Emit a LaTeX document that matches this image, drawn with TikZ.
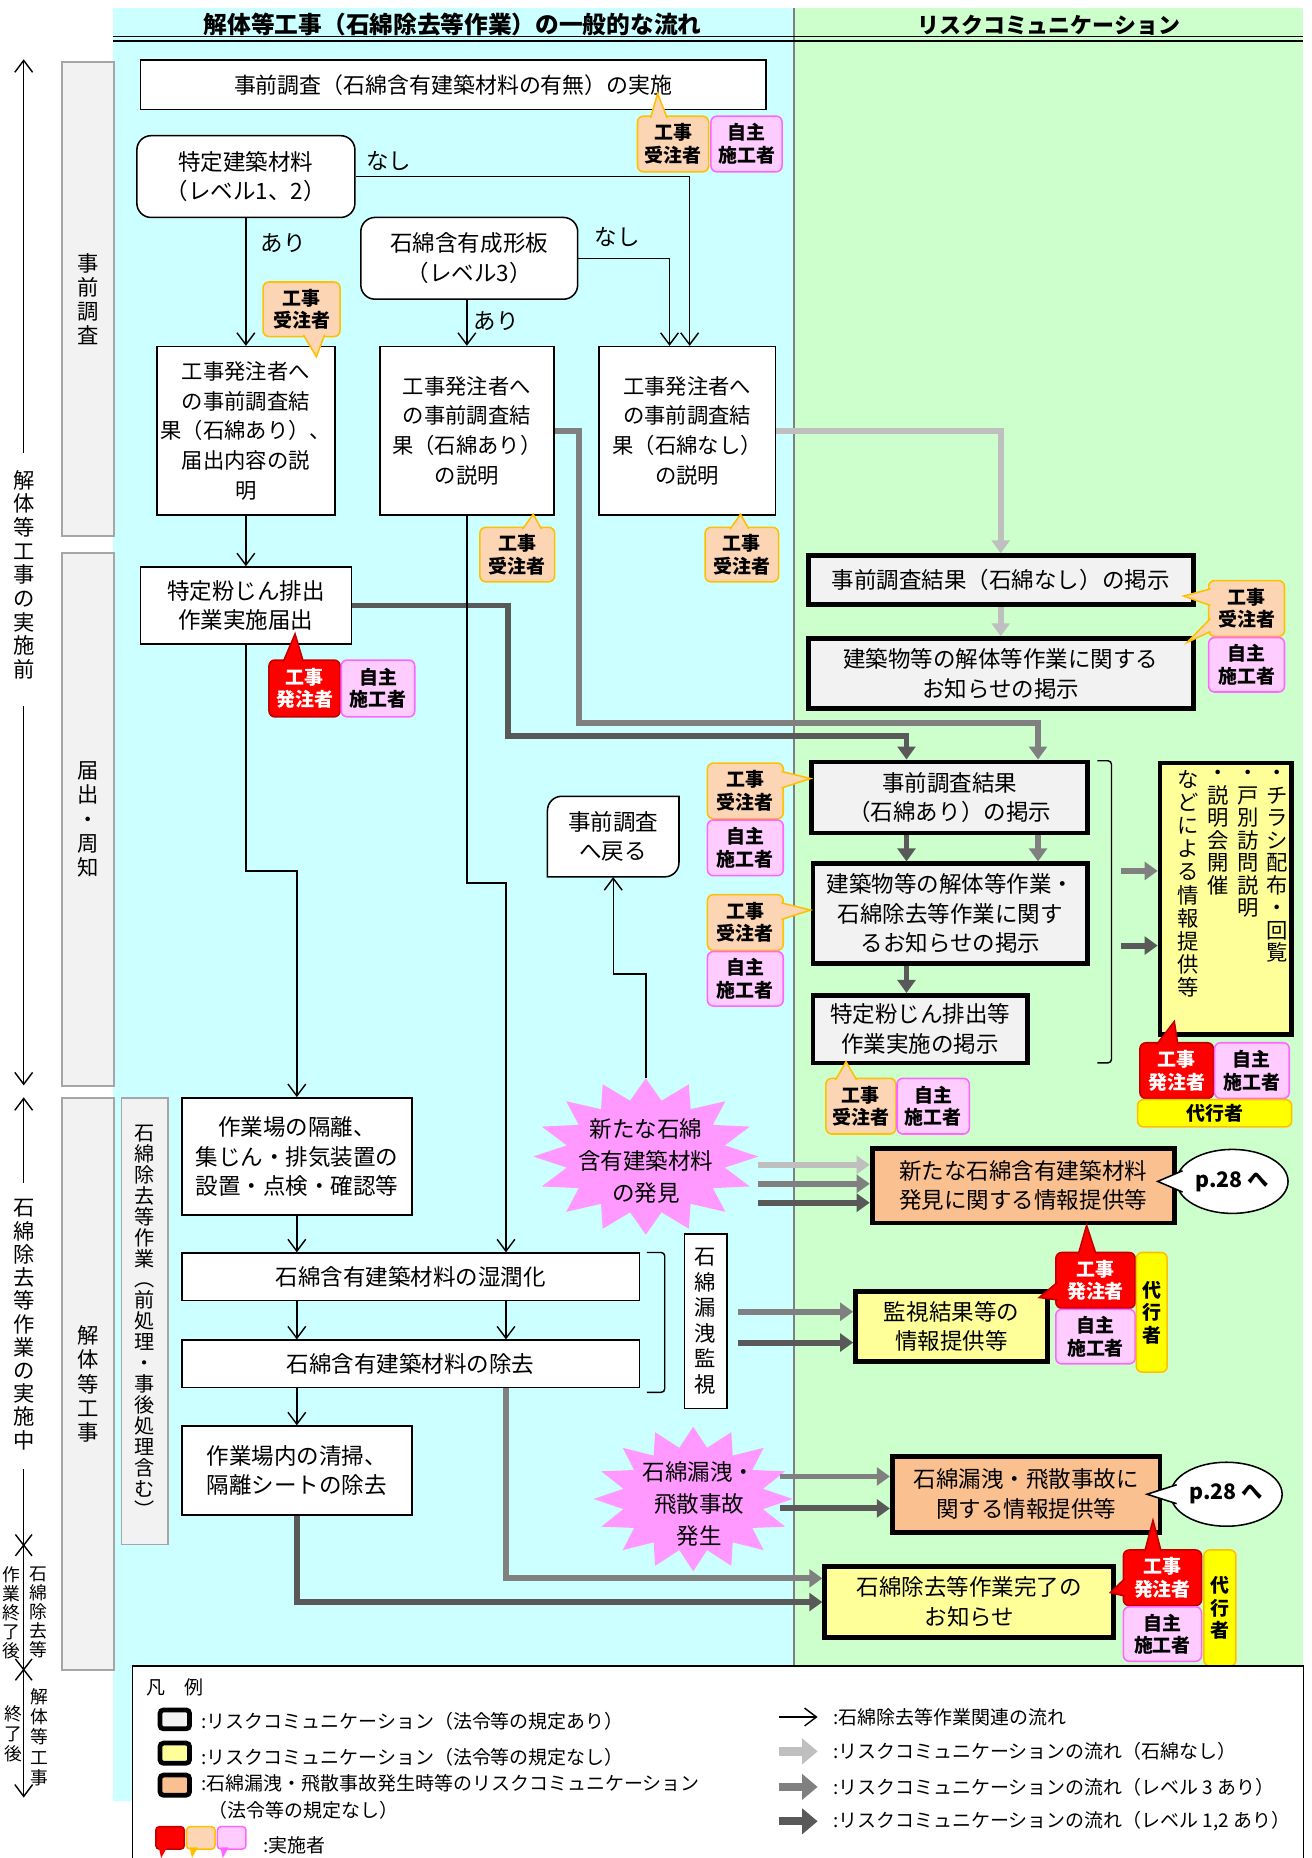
\documentclass[tikz,border=0pt]{standalone}
\usepackage{fontspec}
\setmainfont{Noto Sans CJK JP}
\usepackage{tikz}
\usetikzlibrary{arrows.meta,shapes.geometric}

\definecolor{bgcyan}{HTML}{CCFFFF}
\definecolor{bggreen}{HTML}{CCFFCC}
\definecolor{panelgray}{HTML}{F2F2F2}
\definecolor{panelline}{HTML}{A6A6A6}
\definecolor{ukefill}{HTML}{FCD5B4}
\definecolor{ukeline}{HTML}{FFC000}
\definecolor{jishufill}{HTML}{FFCCFF}
\definecolor{jishuline}{HTML}{FF66FF}
\definecolor{hatchufill}{HTML}{FF0000}
\definecolor{hatchuline}{HTML}{C00000}
\definecolor{daikofill}{HTML}{FFFF00}
\definecolor{infoyellow}{HTML}{FFFF99}
\definecolor{infoorange}{HTML}{FAC090}
\definecolor{burstpink}{HTML}{FF99FF}
\definecolor{arrL}{HTML}{BFBFBF}
\definecolor{arrM}{HTML}{808080}
\definecolor{arrD}{HTML}{595959}

\newcommand{\mainfs}{\fontsize{19}{25}\selectfont}
\newcommand{\boxfs}{\fontsize{18}{25}\selectfont}
\newcommand{\vfs}{\fontsize{18}{20.5}\selectfont}
\newcommand{\badgefs}{\bfseries\fontsize{16}{19}\selectfont}
\newcommand{\legfs}{\fontsize{16}{20}\selectfont}

\begin{document}
\begin{tikzpicture}[x=1pt,y=1pt,yscale=-1,xscale=1,
  plainbox/.style={draw,line width=1.3pt,fill=white,align=center,inner sep=0pt,font=\mainfs},
  roundbox/.style={plainbox,rounded corners=12pt},
  riskbox/.style={draw,line width=4pt,fill=panelgray,align=center,inner sep=0pt,font=\mainfs},
  infobox/.style={riskbox,fill=infoyellow},
  accbox/.style={riskbox,fill=infoorange},
  phasebox/.style={draw=panelline,fill=panelgray,line width=1.5pt,align=center,inner sep=0pt,font=\vfs},
  badge/.style={rounded corners=5pt,line width=1.3pt,align=center,inner sep=0pt,font=\badgefs},
  uke/.style={badge,draw=ukeline,fill=ukefill},
  jishu/.style={badge,draw=jishuline,fill=jishufill},
  hatchu/.style={badge,draw=hatchuline,fill=hatchufill,text=white},
  daiko/.style={badge,draw=ukeline,fill=daikofill},
  flow/.style={line width=1.2pt,-{Straight Barb[length=10pt,width=15pt]}},
  flowL/.style={draw=arrL,line width=5pt,-{Triangle[length=11pt,width=15pt]}},
  flowM/.style={draw=arrM,line width=5pt,-{Triangle[length=11pt,width=15pt]}},
  flowD/.style={draw=arrD,line width=5pt,-{Triangle[length=11pt,width=15pt]}},
  legarrow/.style={line width=7pt,-{Triangle[length=13pt,width=21pt]}},
  textnode/.style={inner sep=0pt,align=center}]
\useasboundingbox (0,0) rectangle (1107,1568);

%Shape: Rectangle (lanes)
\fill[bgcyan] (95,7) rectangle (670,1520);
\fill[bggreen] (670,7) rectangle (1100,1406);
\draw[arrM,line width=2pt] (670,7) -- (670,1406);
\draw[line width=1.2pt] (95,31) -- (1100,31);
\draw[line width=2pt] (95,34.5) -- (1100,34.5);

% Text Node
\draw (382,21) node [textnode,font=\bfseries\fontsize{20}{22}\selectfont] (hdrL) {解体等工事（石綿除去等作業）の一般的な流れ};
% Text Node
\draw (885,21) node [textnode,font=\bfseries\fontsize{18.5}{22}\selectfont] (hdrR) {リスクコミュニケーション};

%Shape: Rectangle (phases)
\draw (74.5,252.5) node [phasebox,minimum width=44pt,minimum height=400pt] (ph_survey) {事\\前\\調\\査};
\draw (74.5,691.5) node [phasebox,minimum width=44pt,minimum height=450pt] (ph_notice) {届\\出\\・\\周\\知};
\draw (74.5,1168) node [phasebox,minimum width=44pt,minimum height=483pt] (ph_work) {解\\体\\等\\工\\事};
\draw (122,1115) node [phasebox,minimum width=39pt,minimum height=377pt,font=\fontsize{17}{17.7}\selectfont] (ph_asb) {石\\綿\\除\\去\\等\\作\\業\\︵\\前\\処\\理\\・\\事\\後\\処\\理\\含\\む\\︶};

% Text Node (time line)
\draw (20,485) node [textnode,font=\fontsize{18}{20}\selectfont] (tl_pre) {解\\体\\等\\工\\事\\の\\実\\施\\前};
\draw (20,1118) node [textnode,font=\fontsize{18}{19.6}\selectfont] (tl_mid) {石\\綿\\除\\去\\等\\作\\業\\の\\実\\施\\中};
\draw (32,1361) node [textnode,font=\fontsize{15}{16}\selectfont] (tl_e1) {石\\綿\\除\\去\\等};
\draw (10,1361) node [textnode,font=\fontsize{15}{16}\selectfont] (tl_e2) {作\\業\\終\\了\\後};
\draw (33,1466) node [textnode,font=\fontsize{15}{17}\selectfont] (tl_f1) {解\\体\\等\\工\\事};
\draw (11,1463) node [textnode,font=\fontsize{15}{17}\selectfont] (tl_f2) {終\\了\\後};
\coordinate (tlA1) at (20,382); \coordinate (tlA2) at (20,50);
\coordinate (tlB1) at (20,596); \coordinate (tlB2) at (20,916);
\coordinate (tlC1) at (20,998); \coordinate (tlC2) at (20,926);
\coordinate (tlD1) at (20,1240); \coordinate (tlD2) at (20,1517);
\draw[flow] (tlA1) -- (tlA2);
\draw[flow] (tlB1) -- (tlB2);
\draw[flow] (tlC1) -- (tlC2);
\draw[flow] (tlD1) -- (tlD2);
\draw[line width=1.2pt] (13,1295) -- (27,1313) (27,1295) -- (13,1313);
\draw[line width=1.2pt] (13,1400) -- (27,1418) (27,1400) -- (13,1418);

%Shape: Rectangle (flow of works)
\draw (382.5,71.5) node [plainbox,font=\fontsize{18.5}{25}\selectfont,minimum width=528pt,minimum height=42pt] (n_survey) {事前調査（石綿含有建築材料の有無）の実施};
\draw (207.5,149) node [roundbox,minimum width=184pt,minimum height=69pt] (n_lv12) {特定建築材料\\（レベル1、2）};
\draw (396,218) node [roundbox,minimum width=183pt,minimum height=69pt] (n_lv3) {石綿含有成形板\\（レベル3）};
\draw (207.5,363.5) node [plainbox,font=\boxfs,minimum width=150pt,minimum height=142pt] (n_expA) {工事発注者へ\\の事前調査結\\果（石綿あり）、\\届出内容の説\\明};
\draw (394,363.5) node [plainbox,font=\boxfs,minimum width=147pt,minimum height=142pt] (n_expB) {工事発注者へ\\の事前調査結\\果（石綿あり）\\の説明};
\draw (580,363.5) node [plainbox,font=\boxfs,minimum width=149pt,minimum height=142pt] (n_expC) {工事発注者へ\\の事前調査結\\果（石綿なし）\\の説明};
\draw (207.5,511) node [plainbox,minimum width=178pt,minimum height=65pt] (n_notify) {特定粉じん排出\\作業実施届出};
\draw (250.5,976) node [plainbox,minimum width=194pt,minimum height=99pt] (n_isolate) {作業場の隔離、\\集じん・排気装置の\\設置・点検・確認等};
\draw (346.5,1077.5) node [plainbox,minimum width=386pt,minimum height=40pt] (n_wet) {石綿含有建築材料の湿潤化};
\draw (346.5,1151) node [plainbox,minimum width=386pt,minimum height=40pt] (n_remove) {石綿含有建築材料の除去};
\draw (250.5,1241) node [plainbox,minimum width=194pt,minimum height=75pt] (n_clean) {作業場内の清掃、\\隔離シートの除去};
\draw (595.5,1115) node [plainbox,font=\fontsize{18}{21.5}\selectfont,minimum width=36pt,minimum height=147pt] (n_monitor) {石\\綿\\漏\\洩\\監\\視};

%Shape: Snip and round rectangle
\draw[line width=1.3pt,fill=white] (462,740) -- (462,684) arc[start angle=180,end angle=270,radius=12] -- (573,672) -- (573,728) arc[start angle=0,end angle=90,radius=12] -- cycle;
\draw (517.5,706) node [textnode,font=\mainfs,minimum width=111pt,minimum height=68pt] (n_back) {事前調査\\へ戻る};

%Shape: Brackets
\draw[line width=1.2pt,rounded corners=3pt] (546,1057) -- (561,1057) -- (561,1175) -- (546,1175);
\draw[line width=1.2pt,rounded corners=3pt] (926,642) -- (938,642) -- (938,897) -- (926,897);

%Shape: Explosion
\fill[burstpink,shift={(545,976)}] (0:95 and 66) \foreach \k in {0,...,15} { -- ({\k*22.5+11.25}:68 and 48) -- ({\k*22.5+22.5}:95 and 66) } -- cycle;
\draw (545,980) node [textnode,font=\fontsize{19}{27}\selectfont] (burstA) {新たな石綿\\含有建築材料\\の発見};
\fill[burstpink,shift={(585,1265)}] (0:84 and 61) \foreach \k in {0,...,15} { -- ({\k*22.5+11.25}:60 and 44) -- ({\k*22.5+22.5}:84 and 61) } -- cycle;
\draw (590,1269) node [textnode,font=\fontsize{19}{27}\selectfont] (burstB) {石綿漏洩・\\飛散事故\\発生};

%Shape: Rectangle (risk communication)
\draw (844.5,489.5) node [riskbox,minimum width=325pt,minimum height=41pt] (n_r1) {事前調査結果（石綿なし）の掲示};
\draw (844.5,568.5) node [riskbox,minimum width=325pt,minimum height=59pt] (n_r2) {建築物等の解体等作業に関する\\お知らせの掲示};
\draw (801.5,673) node [riskbox,minimum width=233pt,minimum height=60pt] (n_r3) {事前調査結果\\（石綿あり）の掲示};
\draw (802,771) node [riskbox,minimum width=232pt,minimum height=84pt] (n_r4) {建築物等の解体等作業・\\石綿除去等作業に関す\\るお知らせの掲示};
\draw (776.5,868.5) node [riskbox,minimum width=181pt,minimum height=57pt] (n_r5) {特定粉じん排出等\\作業実施の掲示};
\draw (1034.5,758.5) node [infobox,minimum width=111pt,minimum height=229pt] (n_info) {};
\draw (1078,650) node [textnode,anchor=north,font=\fontsize{18}{19}\selectfont] (info1) {・\\チ\\ラ\\シ\\配\\布\\・\\回\\覧};
\draw (1053,650) node [textnode,anchor=north,font=\fontsize{18}{19}\selectfont] (info2) {・\\戸\\別\\訪\\問\\説\\明};
\draw (1028,650) node [textnode,anchor=north,font=\fontsize{18}{19}\selectfont] (info3) {・\\説\\明\\会\\開\\催};
\draw (1003,650) node [textnode,anchor=north,font=\fontsize{18}{19.5}\selectfont] (info4) {な\\ど\\に\\よ\\る\\情\\報\\提\\供\\等};
\draw (863.5,1000.5) node [accbox,minimum width=255pt,minimum height=63pt] (n_o1) {新たな石綿含有建築材料\\発見に関する情報提供等};
\draw (803,1119.5) node [infobox,minimum width=162pt,minimum height=59pt] (n_y2) {監視結果等の\\情報提供等};
\draw (866,1261) node [accbox,minimum width=226pt,minimum height=64pt] (n_o2) {石綿漏洩・飛散事故に\\関する情報提供等};
\draw (818,1352) node [infobox,minimum width=244pt,minimum height=60pt] (n_y3) {石綿除去等作業完了の\\お知らせ};

% Text Node (branch labels)
\draw (239,205) node [textnode,font=\mainfs] (lb_ari1) {あり};
\draw (328,136) node [textnode,font=\mainfs] (lb_nasi1) {なし};
\draw (419,271) node [textnode,font=\mainfs] (lb_ari2) {あり};
\draw (521,200) node [textnode,font=\mainfs] (lb_nasi2) {なし};

% bend points
\coordinate (nasiA) at (582,0); \coordinate (nasiB) at (565,0);
\coordinate (rowA) at (0,735); \coordinate (rowB) at (0,745); \coordinate (rowC) at (0,822);
\coordinate (colW) at (427,0);
\coordinate (colB) at (489,0); \coordinate (rowM1) at (0,610);
\coordinate (colA) at (429,0); \coordinate (rowD1) at (0,621);
\coordinate (colM) at (876,0); \coordinate (colD) at (765,0);
\coordinate (rowI1) at (0,735); \coordinate (rowI2) at (0,798); \coordinate (brk) at (946,0);
\coordinate (rowE1) at (0,1332); \coordinate (rowE2) at (0,1352);
\coordinate (burstA-top) at (545,910);
\coordinate (fndL) at (640,983); \coordinate (fndM) at (640,999); \coordinate (fndD) at (640,1015);
\coordinate (monM) at (623,1107); \coordinate (monD) at (623,1133);
\coordinate (accM) at (658,1246); \coordinate (accD) at (658,1273);

%Thick connectors
\draw[flowL] (n_expC.east) -| (n_r1.north);
\draw[flowL] (n_r1.south) -- (n_r2.north);
\draw[flowM] (n_expB.east) -| (colB |- rowM1) -| (n_r3.north -| colM);
\draw[flowD] (n_notify.east) -| (colA |- rowD1) -| (n_r3.north -| colD);
\draw[flowM] (n_r3.south -| colM) -- (n_r4.north -| colM);
\draw[flowD] (n_r3.south -| colD) -- (n_r4.north -| colD);
\draw[flowD] (n_r4.south -| colD) -- (n_r5.north -| colD);
\draw[flowM] (brk |- rowI1) -- (n_info.west |- rowI1);
\draw[flowD] (brk |- rowI2) -- (n_info.west |- rowI2);
\draw[flowL] (fndL) -- (fndL -| n_o1.west);
\draw[flowM] (fndM) -- (fndM -| n_o1.west);
\draw[flowD] (fndD) -- (fndD -| n_o1.west);
\draw[flowM] (monM) -- (monM -| n_y2.west);
\draw[flowD] (monD) -- (monD -| n_y2.west);
\draw[flowM] (accM) -- (accM -| n_o2.west);
\draw[flowD] (accD) -- (accD -| n_o2.west);
\draw[flowM] (n_remove.south -| colW) |- (n_y3.west |- rowE1);
\draw[flowD] (n_clean.south) |- (n_y3.west |- rowE2);

%Thin connectors
\draw[flow] (n_lv12.south) -- (n_expA.north);
\draw[flow] (n_lv12.east) -| (n_expC.north -| nasiA);
\draw[flow] (n_expB.north |- n_lv3.south) -- (n_expB.north);
\draw[flow] (n_lv3.east) -| (n_expC.north -| nasiB);
\draw[flow] (n_expA.south) -- (n_notify.north);
\draw[flow] (n_notify.south) -- (n_notify.south |- rowA) -| (n_isolate.north);
\draw[flow] (n_expB.south) -- (n_expB.south |- rowB) -| (n_wet.north -| colW);
\draw[flow] (n_isolate.south) -- (n_isolate.south |- n_wet.north);
\draw[flow] (n_isolate.south |- n_wet.south) -- (n_isolate.south |- n_remove.north);
\draw[flow] (n_wet.south -| colW) -- (n_remove.north -| colW);
\draw[flow] (n_isolate.south |- n_remove.south) -- (n_clean.north);
\draw[flow] (burstA-top) -- (burstA-top |- rowC) -| (n_back.south);

%Shape: Callout (p.28)
\draw (1040,997) node [ellipse,draw,fill=white,line width=1.3pt,inner sep=0pt,minimum width=94pt,minimum height=54pt,font=\bfseries\fontsize{18}{20}\selectfont] (n_p28a) {p.28 へ};
\fill[white] (998,988) -- (977,997) -- (998,1006) -- cycle;
\draw[line width=1.3pt] (998,988) -- (977,997) -- (998,1006);
\draw (1035,1261) node [ellipse,draw,fill=white,line width=1.3pt,inner sep=0pt,minimum width=94pt,minimum height=54pt,font=\bfseries\fontsize{18}{20}\selectfont] (n_p28b) {p.28 へ};
\fill[white] (993,1253) -- (968,1261) -- (993,1269) -- cycle;
\draw[line width=1.3pt] (993,1253) -- (968,1261) -- (993,1269);

%Shape: Callout (who does it)
\draw (568,121.5) node [uke,minimum width=60pt,minimum height=47pt] (bd_u1) {工事\\受注者};
\draw (630,121.5) node [jishu,minimum width=60pt,minimum height=47pt] (bd_j1) {自主\\施工者};
\draw (254.5,261) node [uke,minimum width=65pt,minimum height=46pt] (bd_u2) {工事\\受注者};
\draw (436.5,468) node [uke,minimum width=63pt,minimum height=46pt] (bd_u3) {工事\\受注者};
\draw (626,468) node [uke,minimum width=62pt,minimum height=46pt] (bd_u4) {工事\\受注者};
\draw (257,581) node [hatchu,minimum width=60pt,minimum height=48pt] (bd_h1) {工事\\発注者};
\draw (319,581) node [jishu,minimum width=62pt,minimum height=48pt] (bd_j2) {自主\\施工者};
\draw (1052,513.5) node [uke,minimum width=64pt,minimum height=47pt] (bd_u5) {工事\\受注者};
\draw (1052,561) node [jishu,minimum width=64pt,minimum height=46pt] (bd_j3) {自主\\施工者};
\draw (629,667.5) node [uke,minimum width=64pt,minimum height=47pt] (bd_u6) {工事\\受注者};
\draw (629,715.5) node [jishu,minimum width=64pt,minimum height=47pt] (bd_j4) {自主\\施工者};
\draw (629,778.5) node [uke,minimum width=64pt,minimum height=47pt] (bd_u7) {工事\\受注者};
\draw (629,826) node [jishu,minimum width=64pt,minimum height=46pt] (bd_j5) {自主\\施工者};
\draw (726.5,933.5) node [uke,minimum width=59pt,minimum height=47pt] (bd_u8) {工事\\受注者};
\draw (787.5,933.5) node [jishu,minimum width=61pt,minimum height=47pt] (bd_j6) {自主\\施工者};
\draw (993,903.5) node [hatchu,minimum width=62pt,minimum height=47pt] (bd_h2) {工事\\発注者};
\draw (1056.5,903.5) node [jishu,minimum width=63pt,minimum height=47pt] (bd_j7) {自主\\施工者};
\draw (1025,939.5) node [daiko,minimum width=130pt,minimum height=23pt] (bd_d1) {代行者};
\draw (924.5,1080.5) node [hatchu,minimum width=67pt,minimum height=47pt] (bd_h3) {工事\\発注者};
\draw (924.5,1128) node [jishu,minimum width=67pt,minimum height=46pt] (bd_j8) {自主\\施工者};
\draw (972,1107.5) node [daiko,minimum width=26pt,minimum height=101pt] (bd_d2) {代\\行\\者};
\draw (981,1331.5) node [hatchu,minimum width=66pt,minimum height=47pt] (bd_h4) {工事\\発注者};
\draw (981,1379) node [jishu,minimum width=66pt,minimum height=46pt] (bd_j9) {自主\\施工者};
\draw (1029.5,1357) node [daiko,minimum width=27pt,minimum height=98pt] (bd_d3) {代\\行\\者};

%Shape: Callout tails
\fill[ukefill] (549,99.5) -- (555,79) -- (563,99.5) -- cycle;
\draw[ukeline,line width=1.3pt] (549,99.5) -- (555,79) -- (563,99.5);
\fill[ukefill] (256,282.5) -- (267,301) -- (274,282.5) -- cycle;
\draw[ukeline,line width=1.3pt] (256,282.5) -- (267,301) -- (274,282.5);
\fill[ukefill] (441,446.5) -- (450,434) -- (457,446.5) -- cycle;
\draw[ukeline,line width=1.3pt] (441,446.5) -- (450,434) -- (457,446.5);
\fill[ukefill] (616,446.5) -- (625,434) -- (632,446.5) -- cycle;
\draw[ukeline,line width=1.3pt] (616,446.5) -- (625,434) -- (632,446.5);
\fill[hatchufill] (239,558.5) -- (249,535) -- (256,558.5) -- cycle;
\draw[hatchuline,line width=1.3pt] (239,558.5) -- (249,535) -- (256,558.5);
\fill[ukefill] (1021.5,497) -- (999,503) -- (1021.5,511) -- cycle;
\draw[ukeline,line width=1.3pt] (1021.5,497) -- (999,503) -- (1021.5,511);
\fill[ukefill] (1021.5,522) -- (1002,542) -- (1021.5,533) -- cycle;
\draw[ukeline,line width=1.3pt] (1021.5,522) -- (1002,542) -- (1021.5,533);
\fill[ukefill] (659.5,651) -- (684,657) -- (659.5,665) -- cycle;
\draw[ukeline,line width=1.3pt] (659.5,651) -- (684,657) -- (659.5,665);
\fill[ukefill] (659.5,762) -- (684,768) -- (659.5,776) -- cycle;
\draw[ukeline,line width=1.3pt] (659.5,762) -- (684,768) -- (659.5,776);
\fill[ukefill] (705,911.5) -- (714,896) -- (723,911.5) -- cycle;
\draw[ukeline,line width=1.3pt] (705,911.5) -- (714,896) -- (723,911.5);
\fill[hatchufill] (976,881.5) -- (991,862) -- (994,881.5) -- cycle;
\draw[hatchuline,line width=1.3pt] (976,881.5) -- (991,862) -- (994,881.5);
\fill[hatchufill] (910,1058.5) -- (917,1034) -- (925,1058.5) -- cycle;
\draw[hatchuline,line width=1.3pt] (910,1058.5) -- (917,1034) -- (925,1058.5);
\fill[hatchufill] (892.5,1082) -- (877,1095) -- (892.5,1097) -- cycle;
\draw[hatchuline,line width=1.3pt] (892.5,1082) -- (877,1095) -- (892.5,1097);
\fill[hatchufill] (966,1309.5) -- (973,1283) -- (980,1309.5) -- cycle;
\draw[hatchuline,line width=1.3pt] (966,1309.5) -- (973,1283) -- (980,1309.5);
\fill[hatchufill] (949.5,1332) -- (937,1344) -- (949.5,1347) -- cycle;
\draw[hatchuline,line width=1.3pt] (949.5,1332) -- (937,1344) -- (949.5,1347);

%Shape: Legend
\draw[fill=white,line width=1.3pt] (112,1406) rectangle (1100,1580);
\draw (148,1424) node [textnode,font=\legfs] (lg_title) {凡　例};
\draw (147.5,1451) node [riskbox,rounded corners=3pt,minimum width=25pt,minimum height=16pt] (lg_sq1) {};
\draw (147.5,1479.5) node [infobox,rounded corners=3pt,minimum width=25pt,minimum height=17pt] (lg_sq2) {};
\draw (147.5,1506.5) node [accbox,rounded corners=3pt,minimum width=25pt,minimum height=17pt] (lg_sq3) {};
\draw (170,1453) node [textnode,anchor=west,font=\legfs] (lg_t1) {:リスクコミュニケーション（法令等の規定あり）};
\draw (170,1483) node [textnode,anchor=west,font=\legfs] (lg_t2) {:リスクコミュニケーション（法令等の規定なし）};
\draw (170,1505) node [textnode,anchor=west,font=\legfs] (lg_t3) {:石綿漏洩・飛散事故発生時等のリスクコミュニケーション};
\draw (176,1528) node [textnode,anchor=west,font=\legfs] (lg_t4) {（法令等の規定なし）};
\draw (143.5,1551) node [hatchu,rounded corners=3pt,minimum width=24pt,minimum height=19pt] (lg_h) {};
\draw (169.5,1551) node [uke,rounded corners=3pt,minimum width=24pt,minimum height=19pt] (lg_u) {};
\draw (195.5,1551) node [jishu,rounded corners=3pt,minimum width=24pt,minimum height=19pt] (lg_j) {};
\fill[hatchufill] (134,1559) -- (136,1568) -- (141,1559) -- cycle;
\fill[ukeline] (160,1559) -- (162,1568) -- (167,1559) -- cycle;
\fill[jishuline] (186,1559) -- (188,1568) -- (193,1559) -- cycle;
\draw (222,1557) node [textnode,anchor=west,font=\legfs] (lg_t5) {:実施者};
\coordinate (lg_a1) at (657,1449); \coordinate (lg_b1) at (690,1449);
\coordinate (lg_a2) at (657,1478); \coordinate (lg_b2) at (690,1478);
\coordinate (lg_a3) at (657,1508); \coordinate (lg_b3) at (690,1508);
\coordinate (lg_a4) at (657,1537); \coordinate (lg_b4) at (690,1537);
\draw[flow] (lg_a1) -- (lg_b1);
\draw[legarrow,draw=arrL] (lg_a2) -- (lg_b2);
\draw[legarrow,draw=arrM] (lg_a3) -- (lg_b3);
\draw[legarrow,draw=arrD] (lg_a4) -- (lg_b4);
\draw (703,1449) node [textnode,anchor=west,font=\legfs] (lg_r1) {:石綿除去等作業関連の流れ};
\draw (703,1478) node [textnode,anchor=west,font=\legfs] (lg_r2) {:リスクコミュニケーションの流れ（石綿なし）};
\draw (703,1508) node [textnode,anchor=west,font=\legfs] (lg_r3) {:リスクコミュニケーションの流れ（レベル 3 あり）};
\draw (703,1537) node [textnode,anchor=west,font=\legfs] (lg_r4) {:リスクコミュニケーションの流れ（レベル 1,2 あり）};

\end{tikzpicture}
\end{document}
